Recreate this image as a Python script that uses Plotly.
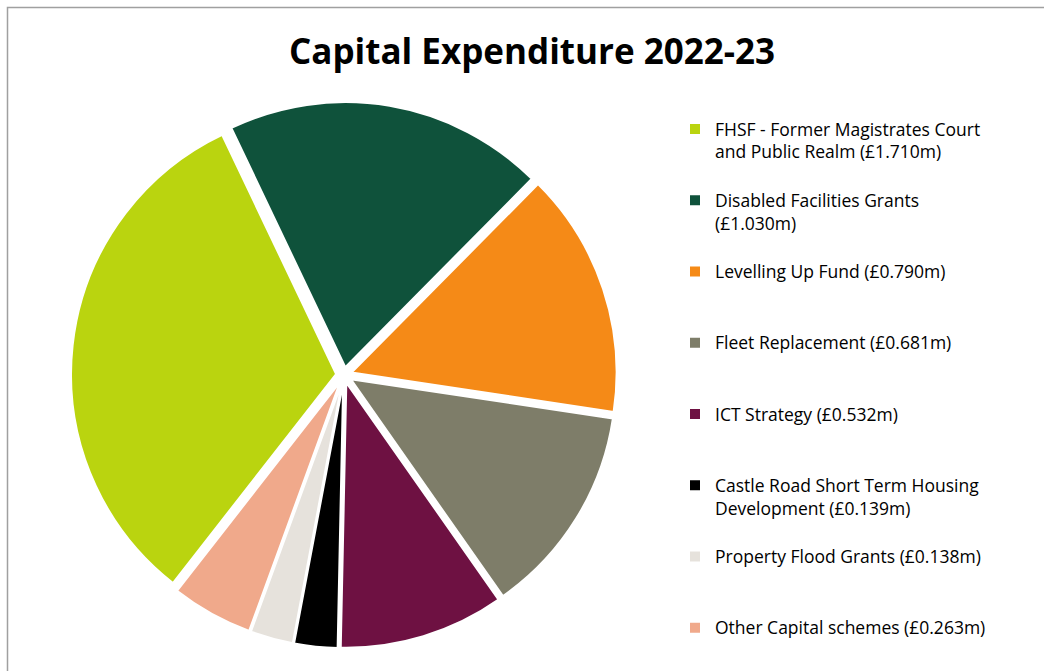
import plotly.graph_objects as go

# legend text for each scheme (line breaks as in the original legend)
categories = [
    "FHSF - Former Magistrates Court<br>and Public Realm (£1.710m)",
    "Disabled Facilities Grants<br>(£1.030m)",
    "Levelling Up Fund (£0.790m)",
    "Fleet Replacement (£0.681m)",
    "ICT Strategy (£0.532m)",
    "Castle Road Short Term Housing<br>Development (£0.139m)",
    "Property Flood Grants (£0.138m)",
    "Other Capital schemes (£0.263m)",
]
values = [1.710, 1.030, 0.790, 0.681, 0.532, 0.139, 0.138, 0.263]
colors = ["#BAD40F", "#0F523B", "#F58A17", "#7E7D69",
          "#6E1142", "#000000", "#E6E2DC", "#F0A98B"]

FONT = "Open Sans"
W, H = 1044, 671

# pad every legend entry (except the last) to three lines so entries are evenly spaced
labels = []
for i, c in enumerate(categories):
    n = c.count("<br>") + 1
    if i < len(categories) - 1:
        c = c + "<br>\u00a0" * (3 - n)
    labels.append(c)

fig = go.Figure()
fig.add_trace(go.Pie(
    labels=labels,
    values=values,
    sort=False,
    direction="clockwise",
    rotation=218,
    pull=[0.03] * len(values),
    marker=dict(colors=colors, line=dict(color="white", width=2)),
    textinfo="none",
    hoverinfo="label+value+percent",
    domain=dict(x=[71 / W, 617 / W], y=[1 - 648 / H, 1 - 102 / H]),
))

fig.update_layout(
    width=W,
    height=H,
    margin=dict(l=0, r=0, t=0, b=0),
    paper_bgcolor="white",
    plot_bgcolor="white",
    font=dict(family=FONT, color="#000000"),
    title=dict(
        text="<b>Capital Expenditure 2022-23</b>",
        x=532 / W, xanchor="center",
        y=1 - 52 / H, yanchor="middle",
        font=dict(family=FONT, size=35, color="#000000"),
    ),
    legend=dict(
        x=675 / W, xanchor="left",
        y=1 - 111 / H, yanchor="top",
        valign="top",
        font=dict(family=FONT, size=17.5, color="#000000"),
        bgcolor="rgba(0,0,0,0)",
    ),
    shapes=[dict(
        type="rect", xref="paper", yref="paper",
        x0=7.5 / W, x1=1.05, y0=-0.05, y1=1 - 7.5 / H,
        line=dict(color="#A0A0A0", width=1.5),
    )],
)

# drop the default page margin so the figure sits at the window's top-left corner
fig.write_html(
    "out.html",
    config={"displayModeBar": False},
    post_script="document.body.style.margin = '0';",
)
